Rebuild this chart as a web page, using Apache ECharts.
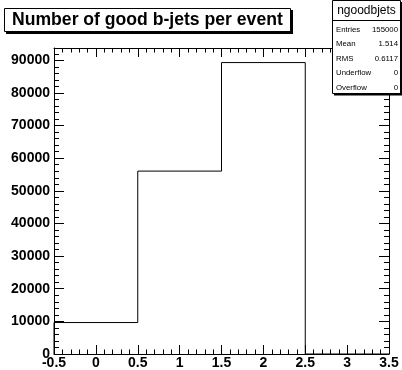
<!DOCTYPE html>
<html>
<head>
<meta charset="utf-8">
<script src="https://cdn.jsdelivr.net/npm/echarts@6/dist/echarts.min.js"></script>
<style>
html,body{margin:0;padding:0;background:#fff;}
#chart{width:402px;height:370px;}
</style>
</head>
<body>
<div id="chart"></div>
<script>
// ---- data ----
const titleText = 'Number of good b-jets per event';
const histName = 'ngoodbjets';
const binEdges = [-0.5, 0.5, 1.5, 2.5, 3.5];
const binCounts = [9640, 56050, 89310, 0];
const xTickStep = 0.5;
const yMajorTicks = [0, 10000, 20000, 30000, 40000, 50000, 60000, 70000, 80000, 90000];
const statsLabels = ['Entries', 'Mean', 'RMS', 'Underflow', 'Overflow'];
const statsValues = ['155000', '1.514', '0.6117', '0', '0'];

// ---- derived ----
const yMax = Math.max.apply(null, binCounts) * 1.05;
const yMinorTicks = [];
for (let v = 2000; v < yMax; v += 2000) { if (v % 10000 !== 0) yMinorTicks.push(v); }
const stepData = [[binEdges[0], 0]];
for (let i = 0; i < binCounts.length; i++) {
  stepData.push([binEdges[i], binCounts[i]]);
  stepData.push([binEdges[i + 1], binCounts[i]]);
}
stepData.push([binEdges[binEdges.length - 1], 0]);

const FONT = '"Liberation Sans", Arial, Helvetica, sans-serif';
const black = '#000';

function xAx(pos, labels) {
  return {
    type: 'value', position: pos, min: binEdges[0], max: binEdges[binEdges.length - 1],
    interval: xTickStep,
    axisLine: { show: true, onZero: false, lineStyle: { color: black, width: 1 } },
    axisTick: { show: true, inside: true, length: 9, lineStyle: { color: black, width: 1 } },
    minorTick: { show: true, splitNumber: 5, length: 4.5, lineStyle: { color: black, width: 1 } },
    axisLabel: { show: labels, color: black, fontFamily: FONT, fontWeight: 'bold', fontSize: 14, margin: 2,
      formatter: function (v) { return String(v); } },
    splitLine: { show: false }, minorSplitLine: { show: false }
  };
}
function yAx(pos, ticks, len, labels, line) {
  return {
    type: 'value', position: pos, min: 0, max: yMax,
    axisLine: { show: line, onZero: false, lineStyle: { color: black, width: 1 } },
    axisTick: { show: true, inside: true, length: len, customValues: ticks, lineStyle: { color: black, width: 1 } },
    axisLabel: { show: labels, customValues: ticks, color: black, fontFamily: FONT, fontWeight: 'bold', fontSize: 14, margin: 4,
      formatter: function (v) { return String(v); } },
    splitLine: { show: false }
  };
}

const graphics = [
  // title box
  { type: 'rect', shape: { x: 6, y: 10, width: 287, height: 24 }, style: { fill: black }, z: 100 },
  { type: 'rect', shape: { x: 4.5, y: 8.5, width: 286, height: 23 }, style: { fill: '#fff', stroke: black, lineWidth: 1 }, z: 101 },
  { type: 'text', x: 12, y: 20.5, style: { text: titleText, fill: black, font: 'bold 17.6px ' + FONT, textAlign: 'left', textVerticalAlign: 'middle' }, z: 102 },
  // stats box
  { type: 'rect', shape: { x: 334, y: 2, width: 68, height: 93.5 }, style: { fill: black }, z: 100 },
  { type: 'rect', shape: { x: 332.5, y: 0.5, width: 68, height: 93 }, style: { fill: '#fff', stroke: black, lineWidth: 1 }, z: 101 },
  { type: 'line', shape: { x1: 332.5, y1: 20.5, x2: 400.5, y2: 20.5 }, style: { stroke: black, lineWidth: 1 }, z: 102 },
  { type: 'text', x: 366.5, y: 11, style: { text: histName, fill: black, font: '12px ' + FONT, textAlign: 'center', textVerticalAlign: 'middle' }, z: 102 }
];
const rowY = [29.5, 44, 58.5, 73, 87.5];
statsLabels.forEach(function (lab, i) {
  graphics.push({ type: 'text', x: 336, y: rowY[i], style: { text: lab, fill: black, font: '7.8px ' + FONT, textAlign: 'left', textVerticalAlign: 'middle' }, z: 102 });
  graphics.push({ type: 'text', x: 398, y: rowY[i], style: { text: statsValues[i], fill: black, font: '7.8px ' + FONT, textAlign: 'right', textVerticalAlign: 'middle' }, z: 102 });
});

const chart = echarts.init(document.getElementById('chart'), null, { renderer: 'canvas' });
chart.setOption({
  animation: false,
  backgroundColor: '#fff',
  grid: { left: 54, top: 48, width: 335, height: 307, containLabel: false },
  xAxis: [xAx('bottom', true), xAx('top', false)],
  yAxis: [
    yAx('left', yMajorTicks, 10, true, true),
    yAx('left', yMinorTicks, 5, false, false),
    yAx('right', yMajorTicks, 10, false, true),
    yAx('right', yMinorTicks, 5, false, false)
  ],
  series: [{
    type: 'line', xAxisIndex: 0, yAxisIndex: 0, data: stepData,
    showSymbol: false, symbol: 'none', silent: true,
    lineStyle: { color: black, width: 1 }, z: 3
  }],
  graphic: graphics
});
</script>
</body>
</html>
